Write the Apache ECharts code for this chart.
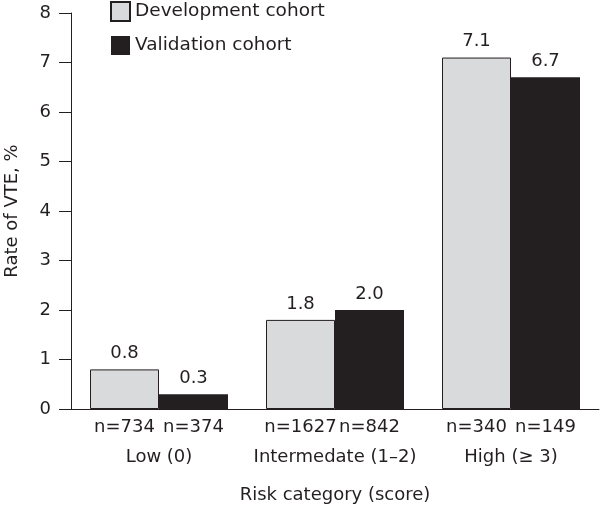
<!DOCTYPE html>
<html>
<head>
<meta charset="utf-8">
<script src="https://cdn.jsdelivr.net/npm/echarts@6/dist/echarts.min.js"></script>
<style>html,body{margin:0;padding:0;background:#fff;}#c{width:601px;height:506px;}</style>
</head>
<body>
<div id="c"></div>
<script>
const categories = ['Low (0)', 'Intermedate (1\u20132)', 'High (\u2265 3)'];
const devN = ['n=734', 'n=1627', 'n=340'];
const valN = ['n=374', 'n=842', 'n=149'];
const devValues = [0.8, 1.8, 7.1];
const valValues = [0.3, 2.0, 6.7];
const yTicks = [0, 1, 2, 3, 4, 5, 6, 7, 8];

const FONT = 'DejaVu Sans';
const TXT = '#231f20';
const chart = echarts.init(document.getElementById('c'));
chart.setOption({
  animation: false,
  textStyle: {fontFamily: FONT, color: TXT},
  legend: {
    orient: 'vertical', left: 110, top: 1, padding: 0, itemWidth: 19, itemHeight: 19, itemGap: 14,
    icon: 'rect',
    textStyle: {fontFamily: FONT, fontSize: 18.5, color: TXT},
    data: ['Development cohort', 'Validation cohort']
  },
  grid: {left: 71, right: 2, top: 13, bottom: 97, containLabel: false, outerBoundsMode: 'none'},
  xAxis: {
    type: 'category', data: categories,
    name: 'Risk category (score)', nameLocation: 'middle', nameGap: 77,
    nameTextStyle: {fontFamily: FONT, fontSize: 18, color: TXT},
    axisLine: {lineStyle: {color: TXT, width: 1}},
    axisTick: {length: 9, inside: false, lineStyle: {color: TXT}},
    axisLabel: {
      margin: 3, interval: 0,
      formatter: function (v, i) { return '{a|' + devN[i] + '}{b|' + valN[i] + '}\n{c|' + v + '}'; },
      rich: {
        a: {width: 69, align: 'center', fontSize: 18, lineHeight: 30, fontFamily: FONT, color: TXT},
        b: {width: 69, align: 'center', fontSize: 18, lineHeight: 30, fontFamily: FONT, color: TXT},
        c: {fontSize: 18, lineHeight: 30, fontFamily: FONT, color: TXT}
      }
    }
  },
  yAxis: {
    type: 'value', min: yTicks[0], max: yTicks[yTicks.length - 1], interval: 1,
    name: 'Rate of VTE, %', nameLocation: 'middle', nameGap: 50,
    nameTextStyle: {fontFamily: FONT, fontSize: 18, color: TXT},
    axisLine: {show: true, lineStyle: {color: TXT, width: 1}},
    axisTick: {show: true, inside: false, length: 12, lineStyle: {color: TXT}},
    axisLabel: {fontSize: 18, color: TXT, fontFamily: FONT, margin: 20},
    splitLine: {show: false}
  },
  series: [
    {
      name: 'Development cohort', type: 'bar', data: devValues,
      barWidth: 69, barGap: '0%',
      itemStyle: {color: '#d9dadb', borderColor: TXT, borderWidth: 1},
      label: {show: true, position: 'top', distance: 7, fontSize: 18, color: TXT, fontFamily: FONT,
        formatter: p => p.value.toFixed(1)}
    },
    {
      name: 'Validation cohort', type: 'bar', data: valValues,
      barWidth: 69, barGap: '0%',
      itemStyle: {color: '#231f20'},
      label: {show: true, position: 'top', distance: 7, fontSize: 18, color: TXT, fontFamily: FONT,
        formatter: p => p.value.toFixed(1)}
    }
  ]
});
</script>
</body>
</html>
